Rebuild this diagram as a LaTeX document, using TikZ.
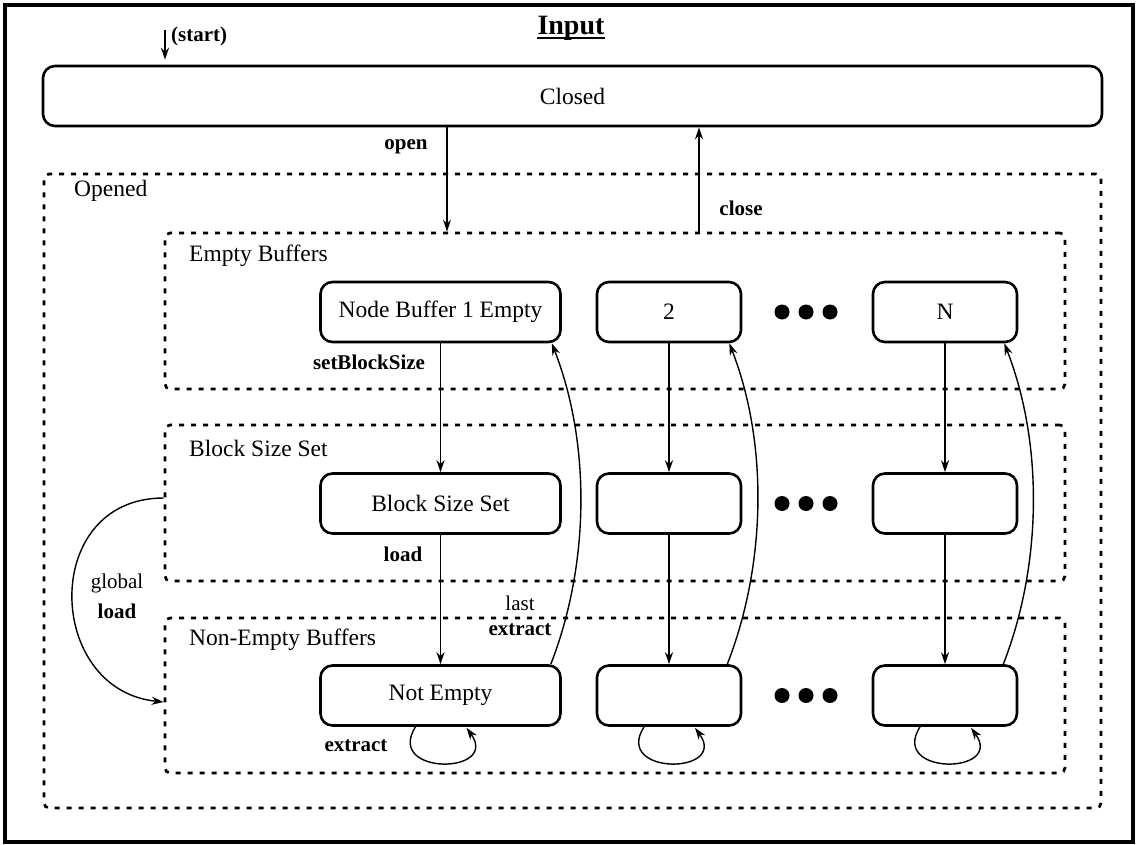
\documentclass[tikz,border=0pt]{standalone}
\usepackage{fontspec}
\setmainfont{Liberation Serif}
\usetikzlibrary{arrows.meta,calc}
\begin{document}
\begin{tikzpicture}[x=1pt,y=-1pt,
  state/.style={draw,line width=2.6pt,rounded corners=12pt,minimum height=60pt,
    inner sep=0pt,font=\fontsize{23.5}{28}\selectfont},
  region/.style={draw,line width=2.7pt,dash pattern=on 5pt off 7pt,
    rounded corners=5pt,inner sep=0pt},
  regionname/.style={anchor=west,inner sep=0pt,font=\fontsize{23.5}{28}\selectfont},
  lbl/.style={inner sep=0pt,font=\bfseries\fontsize{21}{25}\selectfont},
  plainlbl/.style={inner sep=0pt,font=\fontsize{21}{25}\selectfont},
  arr/.style={line width=1.4pt,-{Stealth[length=12pt,width=8pt]}},
  dotmark/.style={circle,fill,inner sep=0pt,minimum size=15pt}
]
\useasboundingbox (0,0) rectangle (1138,845);
% frame
\draw[line width=4pt] (5,5) rectangle (1133,842);

% title and start marker
\node[inner sep=0pt,anchor=base,font=\bfseries\fontsize{28}{32}\selectfont] (title) at (571,35) {Input};
\draw[line width=2pt] ($(title.base west)+(0,3.5)$) -- ($(title.base east)+(0,3.5)$);
\coordinate (startpt) at (165,30);
\node[lbl,anchor=west] (startlbl) at (171,36) {(start)};

% Closed state
\node[state,minimum width=1059pt] (closed) at (572.5,96) {Closed};
\draw[arr,shorten >=5pt] (startpt) -- (closed.north -| startpt);

% nested regions
\node[region,minimum width=1057pt,minimum height=634pt] (opened) at (572.5,491) {};
\node[region,minimum width=900pt,minimum height=156pt] (eb) at (615,311) {};
\node[region,minimum width=900pt,minimum height=156pt] (bs) at (615,503) {};
\node[region,minimum width=900pt,minimum height=155pt] (ne) at (615,695.5) {};

\node[regionname] (openedname) at (74,191) {Opened};
\node[regionname] (ebname) at (189,256) {Empty Buffers};
\node[regionname] (bsname) at (189,448) {Block Size Set};
\node[regionname] (nename) at (189,640) {Non-Empty Buffers};

% open / close
\coordinate (openx) at (447,0);
\coordinate (closex) at (699,0);
\draw[arr] (closed.south -| openx) -- (eb.north -| openx);
\draw[arr] (eb.north -| closex) -- (closed.south -| closex);
\node[lbl] (openlbl) at (406,147) {open};
\node[lbl] (closelbl) at (741,208) {close};

% buffer states, three columns
\node[state,minimum width=240pt] (b1) at (440.5,312) {Node Buffer 1 Empty};
\node[state,minimum width=144pt] (b2) at (669,312) {2};
\node[state,minimum width=144pt] (bN) at (945,312) {N};
\node[state,minimum width=240pt] (s1) at (440.5,503.5) {Block Size Set};
\node[state,minimum width=144pt] (s2) at (669,503.5) {};
\node[state,minimum width=144pt] (sN) at (945,503.5) {};
\node[state,minimum width=240pt] (n1) at (440.5,695.5) {Not Empty};
\node[state,minimum width=144pt] (n2) at (669,695.5) {};
\node[state,minimum width=144pt] (nN) at (945,695.5) {};

% ellipsis dots
\foreach \y/\r in {312/1,503.5/2,695.5/3}{
  \node[dotmark] (d\r a) at (782,\y) {};
  \node[dotmark] (d\r b) at (806,\y) {};
  \node[dotmark] (d\r c) at (830,\y) {};
}

% transitions down each column
\foreach \c in {1,2,N}{
  \draw[arr] (b\c) -- (s\c);
  \draw[arr] (s\c) -- (n\c);
}
% last extract back to empty
\draw[arr] ($(n1.north east)+(-11,0)$) .. controls +(39,-100) and +(39,100) .. ($(b1.south east)+(-10,0)$);
\draw[arr] ($(n2.north east)+(-15,0)$) .. controls +(39,-100) and +(39,100) .. ($(b2.south east)+(-13,0)$);
\draw[arr] ($(nN.north east)+(-15,0)$) .. controls +(39,-100) and +(39,100) .. ($(bN.south east)+(-14,0)$);
% extract self loops
\foreach \c in {1,2,N}{
  \draw[arr] ($(n\c.south)+(-25,0)$) .. controls +(-31,49) and +(34,47) .. ($(n\c.south)+(26,1)$);
}

\node[lbl] (sbslbl) at (369,362) {setBlockSize};
\node[lbl] (loadlbl) at (403,554) {load};
\node[plainlbl] (lastlbl) at (520,603) {last};
\node[lbl] (lastextlbl) at (520,630) {extract};
\node[lbl] (extlbl) at (356,746) {extract};

% global load
\draw[arr] ($(bs.west)+(0,-5)$) .. controls (40,498) and (45,690) .. ($(ne.west)+(0,6.5)$);
\node[plainlbl] (globallbl) at (117,583) {global};
\node[lbl] (globalload) at (117,611) {load};
\end{tikzpicture}
\end{document}
